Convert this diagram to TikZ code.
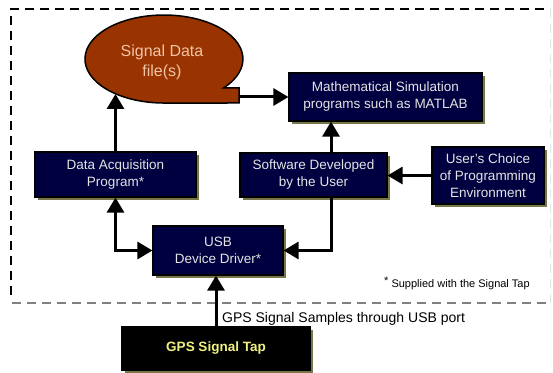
\documentclass[tikz,border=0pt]{standalone}
\usepackage{fontspec}
\setmainfont{Liberation Sans}
\usetikzlibrary{arrows.meta,shadows}
\definecolor{navy}{HTML}{000040}
\definecolor{boxtext}{HTML}{E4E4E4}
\definecolor{olivesh}{HTML}{77774A}
\definecolor{ellfill}{HTML}{993300}
\definecolor{elltext}{HTML}{F2C4A6}
\definecolor{gpstext}{HTML}{F0F080}
\tikzset{
  box/.style={rectangle, draw=black, line width=1.2pt, fill=navy, text=boxtext,
    align=center, inner sep=0pt, font=\fontsize{13.5}{17}\selectfont,
    general shadow={fill=olivesh, shadow xshift=3pt, shadow yshift=-3pt}},
  gpsbox/.style={rectangle, draw=black, line width=1.2pt, fill=black, text=gpstext,
    align=center, inner sep=0pt, font=\fontsize{13.5}{17}\selectfont\bfseries,
    general shadow={fill=olivesh, shadow xshift=3pt, shadow yshift=-3pt}},
  arr/.style={line width=3pt, -{Triangle[length=15pt,width=17pt]}},
  arrboth/.style={line width=3pt, {Triangle[length=15pt,width=17pt]}-{Triangle[length=15pt,width=17pt]}},
  framedash/.style={dash pattern=on 9pt off 6pt},
}
\begin{document}
\begin{tikzpicture}[x=1pt,y=1pt]
\useasboundingbox (0,0) rectangle (553,372);
\fill[white] (0,0) rectangle (553,372);
% dashed frame
\draw[framedash, line width=2pt, black] (11,77) -- (11,363) -- (550,363);
\draw[framedash, line width=1pt, black!10] (550,363) -- (550,69);
\draw[framedash, line width=1.6pt, black!50] (12,69) -- (550,69);
% ellipse data file shape
\filldraw[fill=ellfill, draw=black, line width=1.5pt]
  (239,284) -- (223.4,284) arc[start angle=-41.2, end angle=270, x radius=79, y radius=44]
  -- (239,269) -- cycle;
\node[text=elltext, align=center, font=\fontsize{16}{20}\selectfont] (ell) at (162,310) {Signal Data\\file(s)};
\coordinate (ellR) at (240,275);
\coordinate (ellB) at (115.5,278);
% boxes
\node[box, minimum width=193pt, minimum height=48pt] (math) at (385.5,275) {Mathematical Simulation\\programs such as MATLAB};
\node[box, minimum width=112pt, minimum height=57pt] (choice) at (488,196.5) {User's Choice\\of Programming\\Environment};
\node[box, minimum width=147pt, minimum height=44pt] (soft) at (313.5,197) {Software Developed\\by the User};
\node[box, minimum width=161pt, minimum height=45pt] (daq) at (115.5,197.5) {Data Acquisition\\Program*};
\node[box, minimum width=130pt, minimum height=49pt] (usb) at (218,121.5) {USB\\Device Driver*};
\node[gpsbox, minimum width=188pt, minimum height=43pt] (gps) at (216,23.5) {GPS Signal Tap};
\coordinate (sx) at (331,0);
% connectors
\draw[arr] (ellR) -- (math.west |- ellR);
\draw[arr] (daq.north) -- (ellB);
\draw[arr] (soft.north -| sx) -- (math.south -| sx);
\draw[arr] (choice.west) -- (choice.west -| soft.east);
\draw[arrboth] (daq.south) |- (usb.west);
\draw[arr] (soft.south -| sx) |- (usb.east);
\draw[arr] (gps.north) -- (gps.north |- usb.south);
% labels
\node[anchor=west, inner sep=0pt, font=\fontsize{14}{16}\selectfont] (lbl) at (222,53) {GPS Signal Samples through USB port};
\node[anchor=west, inner sep=0pt, font=\fontsize{11}{13}\selectfont] (note) at (384,89) {\raisebox{3pt}{*} Supplied with the Signal Tap};
\end{tikzpicture}
\end{document}
